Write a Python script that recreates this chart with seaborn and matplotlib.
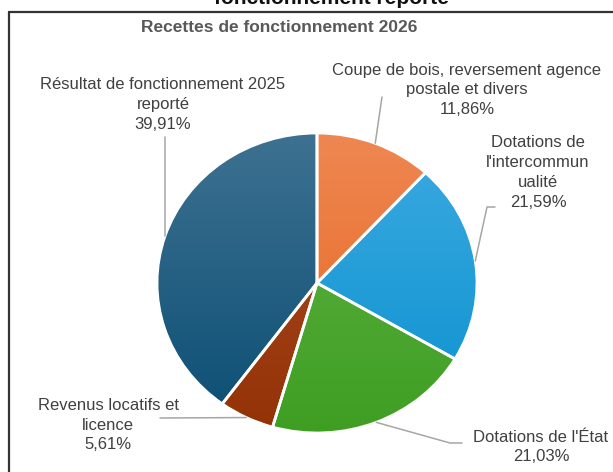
import numpy as np
import matplotlib
matplotlib.use("Agg")
import matplotlib.pyplot as plt
from matplotlib.lines import Line2D
import seaborn as sns

# ---------------- data ----------------
categories = [
    "Coupe de bois, reversement agence postale et divers",
    "Dotations de l'intercommunalité",
    "Dotations de l'État",
    "Revenus locatifs et licence",
    "Résultat de fonctionnement 2025 reporté",
]
label_names = [
    "Coupe de bois, reversement agence\npostale et divers",
    "Dotations de\nl'intercommun\nualité",
    "Dotations de l'État",
    "Revenus locatifs et\nlicence",
    "Résultat de fonctionnement 2025\nreporté",
]
values = [11.86, 21.59, 21.03, 5.61, 39.91]
title = "Recettes de fonctionnement 2026"
top_cut_text = "fonctionnement reporté"

# ---------------- style ----------------
base_colors = ["#EA7332", "#1E9AD6", "#4AA52B", "#A03D12", "#16597F"]
top_colors = ["#EF8752", "#3DAAE1", "#62B447", "#AE4D28", "#3E7191"]
bottom_colors = ["#E5651F", "#0A91CF", "#3E9E22", "#933205", "#0A4E73"]

sns.set_theme(style="white")
plt.rcParams["font.family"] = ["Liberation Sans", "DejaVu Sans"]

W, H = 613, 472
fig = plt.figure(figsize=(W / 100, H / 100), dpi=100)
fig.patch.set_facecolor("white")

# pie placement in pixels (origin top-left)
cx, cy, rx, ry = 317, 283, 160, 150
ax = fig.add_axes([(cx - rx) / W, (H - cy - ry) / H, 2 * rx / W, 2 * ry / H])
palette = sns.color_palette(base_colors)
wedges, _ = ax.pie(values, startangle=90, counterclock=False, colors=palette,
                   wedgeprops=dict(edgecolor="white", linewidth=2))

grad = np.linspace(0, 1, 256).reshape(-1, 1)
for w, ct, cb in zip(wedges, top_colors, bottom_colors):
    cmap = sns.blend_palette([ct, cb], as_cmap=True)
    im = ax.imshow(grad, extent=(-1, 1, -1, 1), cmap=cmap, aspect="auto",
                   origin="upper", zorder=1)
    im.set_clip_path(w)
    w.set_facecolor("none")
    w.set_zorder(3)
    w.set_clip_on(False)

ax.set_aspect("auto")
ax.set_xlim(-1, 1)
ax.set_ylim(-1, 1)
ax.axis("off")

# ---------------- labels ----------------
def px2data(px, py):
    return (px - cx) / rx, (cy - py) / ry

total = float(sum(values))
cum = np.cumsum(values)
mid_angles = np.deg2rad(90 - 360 * (cum - np.array(values) / 2) / total)

label_x = [467, 538, 541, 108, 163]
label_y = [90, 172.5, 447, 425, 104.5]
leader_pts = [
    [(382, 97)],
    [(495, 207), (487, 207)],
    [(462, 443), (450, 443)],
    [(160, 418)],
    [(163, 137)],
]

for i, name in enumerate(label_names):
    pct = f"{values[i]:.2f}".replace(".", ",") + "%"
    fig.text(label_x[i] / W, 1 - label_y[i] / H, name + "\n" + pct,
             ha="center", va="center", fontsize=12, color="#404040",
             linespacing=1.4)
    ex, ey = np.cos(mid_angles[i]), np.sin(mid_angles[i])
    pts = [px2data(*p) for p in leader_pts[i]]
    if i == 4:  # vertical leader
        pts = [(ex, pts[0][1])]
    xs = [p[0] for p in pts] + [ex]
    ys = [p[1] for p in pts] + [ey]
    ax.plot(xs, ys, color="#A6A6A6", lw=1.1, clip_on=False, zorder=4)

# title and cropped heading
fig.text(279 / W, 1 - 28 / H, title, ha="center", va="center",
         fontsize=12.5, fontweight="bold", color="#595959")
fig.text(331 / W, 1 - 3.5 / H, top_cut_text, ha="center", va="baseline",
         fontsize=15, fontweight="bold", color="#111111")

# chart frame (top and left edges visible)
fig.add_artist(Line2D([8.5 / W, 1.02], [1 - 11.5 / H] * 2,
                      transform=fig.transFigure, color="#333333", lw=1.6))
fig.add_artist(Line2D([9 / W, 9 / W], [1 - 11.5 / H, -0.02],
                      transform=fig.transFigure, color="#333333", lw=1.6))

fig.savefig("out.png", dpi=100, facecolor="white")
